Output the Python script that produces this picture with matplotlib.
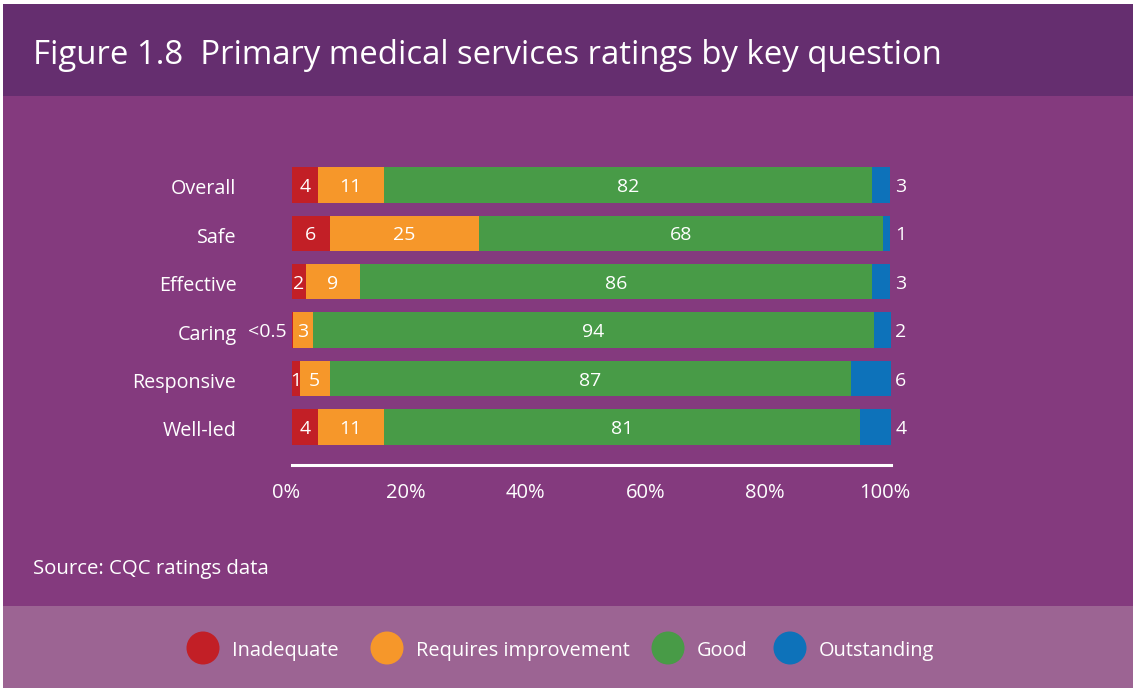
import matplotlib
matplotlib.use("Agg")
import matplotlib.pyplot as plt
import matplotlib.transforms as mtransforms
from matplotlib.patches import Rectangle, Circle
import numpy as np

W, H = 1136, 688

categories = ["Overall", "Safe", "Effective", "Caring", "Responsive", "Well-led"]
ratings = ["Inadequate", "Requires improvement", "Good", "Outstanding"]
colors = ["#c21f26", "#f6972a", "#489b47", "#0d72ba"]

# segment widths (%)
inadequate = [4.3, 6.3, 2.3, 0.2, 1.3, 4.3]
requires_improvement = [11.0, 24.9, 9.0, 3.3, 5.0, 11.0]
good = [81.6, 67.4, 85.5, 93.7, 87.0, 79.5]
outstanding = [3.0, 1.3, 3.0, 2.8, 6.7, 5.2]

# printed labels
inadequate_labels = ["4", "6", "2", "<0.5", "1", "4"]
requires_improvement_labels = ["11", "25", "9", "3", "5", "11"]
good_labels = ["82", "68", "86", "94", "87", "81"]
outstanding_labels = ["3", "1", "3", "2", "6", "4"]

xticks = [0, 20, 40, 60, 80, 100]

plt.rcParams["font.family"] = ["Open Sans", "DejaVu Sans"]

fig = plt.figure(figsize=(W / 100, H / 100), dpi=100)
fig.patch.set_facecolor("white")

# background canvas in pixel coordinates
bg = fig.add_axes([0, 0, 1, 1], zorder=0)
bg.set_xlim(0, W)
bg.set_ylim(H, 0)
bg.axis("off")
bg.add_patch(Rectangle((3, 4), W - 6, 92, color="#652e6f", lw=0))
bg.add_patch(Rectangle((3, 96), W - 6, 510, color="#843a7e", lw=0))
bg.add_patch(Rectangle((3, 606), W - 6, 82, color="#9c6493", lw=0))

bg.text(33, 55, "Figure 1.8  Primary medical services ratings by key question",
        color="white", fontsize=23.7, va="center", ha="left")
bg.text(33, 569, "Source: CQC ratings data", color="white", fontsize=14.7,
        va="center", ha="left")

legend_x = [203, 387, 668, 790]
for cx, name, c in zip(legend_x, ratings, colors):
    bg.add_patch(Circle((cx, 648), 16.5, color=c, lw=0))
    bg.text(cx + 29, 651, name, color="white", fontsize=14.4, va="center", ha="left")

# chart axes: x 292..891 px, y 150..465 px
ax = fig.add_axes([292 / W, 1 - 465 / H, (891 - 292) / W, (465 - 150) / H], zorder=1)
ax.patch.set_alpha(0)

y = np.arange(len(categories))
series = [inadequate, requires_improvement, good, outstanding]
labels = [inadequate_labels, requires_improvement_labels, good_labels, outstanding_labels]
left = np.zeros(len(categories))
for k, (vals, labs, c) in enumerate(zip(series, labels, colors)):
    vals = np.array(vals)
    ax.barh(y, vals, left=left, height=0.73, color=c, lw=0)
    for i in range(len(categories)):
        if k == 3:
            ax.annotate(labs[i], (100, y[i]), xytext=(3, -1.5), textcoords="offset points",
                        color="white", fontsize=14, va="center", ha="left")
        elif labs[i].startswith("<"):
            ax.annotate(labs[i], (0, y[i]), xytext=(-4, -1.5), textcoords="offset points",
                        color="white", fontsize=14, va="center", ha="right")
        else:
            ax.annotate(labs[i], (left[i] + vals[i] / 2, y[i]), xytext=(0, -1.5),
                        textcoords="offset points", color="white", fontsize=14,
                        va="center", ha="center")
    left += vals

ax.set_xlim(0, 100)
ax.set_ylim(5.785, -0.72)
ax.set_yticks(y)
ax.set_yticklabels(categories, color="white", fontsize=14.2)
ax.set_xticks(xticks)
ax.set_xticklabels([f"{t}%" for t in xticks], color="white", fontsize=14.5)
ax.tick_params(axis="both", length=0)
ax.tick_params(axis="y", pad=40)
ax.tick_params(axis="x", pad=13)
shift = mtransforms.ScaledTranslation(-6 / 100, 0, fig.dpi_scale_trans)
for lab in ax.get_xticklabels():
    lab.set_transform(lab.get_transform() + shift)
yshift = mtransforms.ScaledTranslation(0, -2 / 100, fig.dpi_scale_trans)
for lab in ax.get_yticklabels():
    lab.set_transform(lab.get_transform() + yshift)
for s in ["top", "right", "left"]:
    ax.spines[s].set_visible(False)
ax.spines["bottom"].set_color("white")
ax.spines["bottom"].set_linewidth(2.2)

fig.savefig("out.png", dpi=100, facecolor=fig.get_facecolor())
